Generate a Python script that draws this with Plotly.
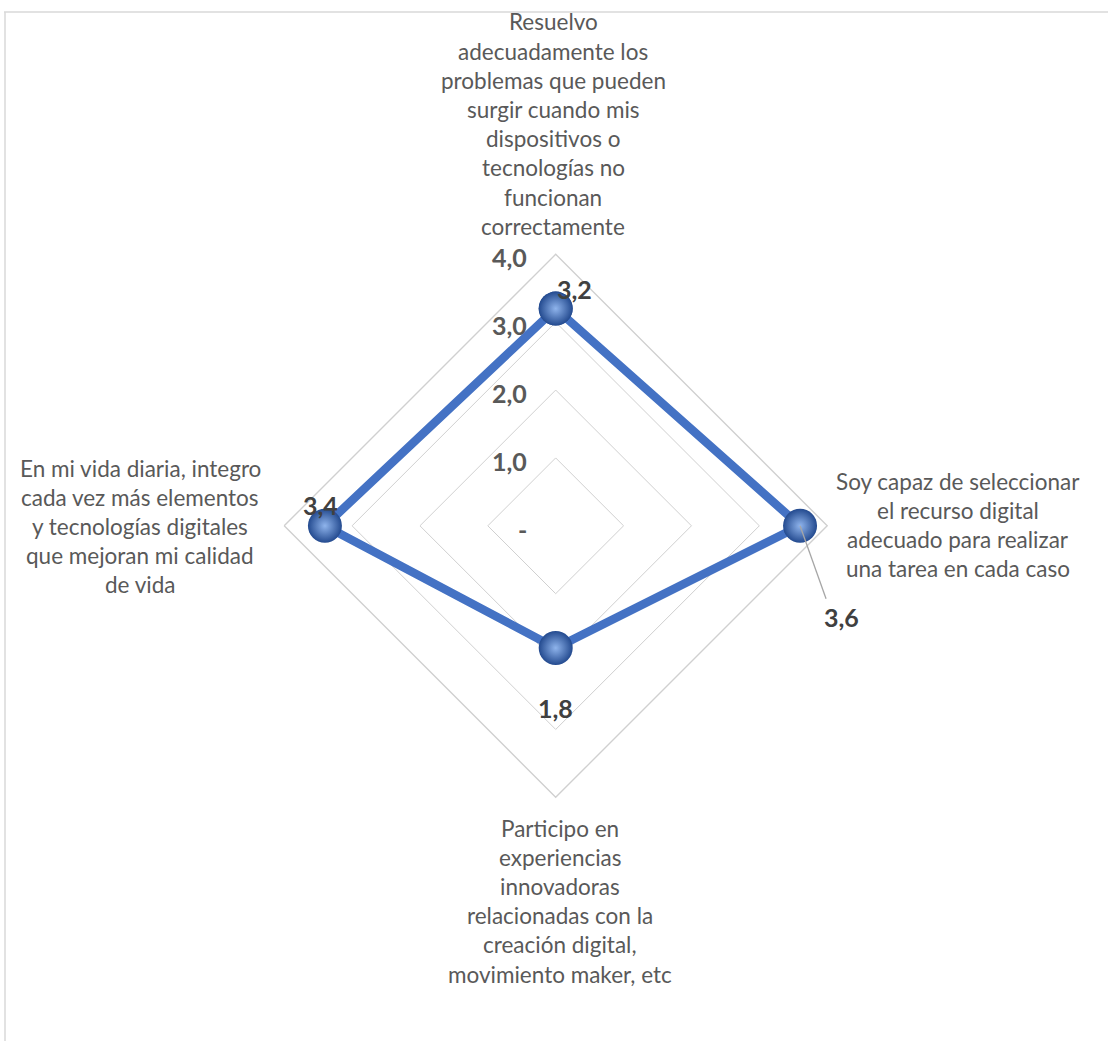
import plotly.graph_objects as go

# ---- data ----
categories = [
    "Resuelvo adecuadamente los problemas que pueden surgir cuando mis dispositivos o tecnologías no funcionan correctamente",
    "Soy capaz de seleccionar el recurso digital adecuado para realizar una tarea en cada caso",
    "Participo en experiencias innovadoras relacionadas con la creación digital, movimiento maker, etc",
    "En mi vida diaria, integro cada vez más elementos y tecnologías digitales que mejoran mi calidad de vida",
]
category_lines = [
    ["Resuelvo", "adecuadamente los", "problemas que pueden", "surgir cuando mis",
     "dispositivos o", "tecnologías no", "funcionan", "correctamente"],
    ["Soy capaz de seleccionar", "el recurso digital", "adecuado para realizar", "una tarea en cada caso"],
    ["Participo en", "experiencias", "innovadoras", "relacionadas con la", "creación digital,",
     "movimiento maker, etc"],
    ["En mi vida diaria, integro", "cada vez más elementos", "y tecnologías digitales",
     "que mejoran mi calidad", "de vida"],
]
values = [3.2, 3.6, 1.8, 3.4]
value_labels = ["3,2", "3,6", "1,8", "3,4"]
tick_vals = [0, 1, 2, 3, 4]
tick_text = ["-", "1,0", "2,0", "3,0", "4,0"]

W, H = 1108, 1041
cx, cy, R = 555.7, 525.8, 271.5   # pixel centre and outer radius of the radar
rmax = 4.0
unit = R / rmax

fig = go.Figure()
theta = categories + [categories[0]]
fig.add_trace(go.Scatterpolar(
    r=values + [values[0]], theta=theta, mode="lines+markers",
    line=dict(color="#4472C4", width=8.5),
    marker=dict(size=34, color="#234A8F",
                gradient=dict(type="radial", color="#8FB4EC"),
                line=dict(width=0)),
    hoverinfo="r+theta", showlegend=False,
))

fig.update_layout(
    width=W, height=H, margin=dict(l=0, r=0, t=0, b=0),
    paper_bgcolor="white", plot_bgcolor="white",
    polar=dict(
        domain=dict(x=[(cx - R) / W, (cx + R) / W], y=[(H - cy - R) / H, (H - cy + R) / H]),
        bgcolor="white", gridshape="linear",
        radialaxis=dict(range=[0, rmax], tickvals=tick_vals, showticklabels=False,
                        angle=90, showline=False, ticks="",
                        gridcolor="#D0D0D0", gridwidth=1.4),
        angularaxis=dict(rotation=90, direction="clockwise", showgrid=False,
                         showline=True, linecolor="#D0D0D0", linewidth=1.4,
                         showticklabels=False, ticks=""),
    ),
)

anns = []
# radial tick labels (left of the vertical axis, at each grid level)
for tv, tt in zip(tick_vals, tick_text):
    py = cy - tv * unit + 3
    anns.append(dict(x=529 / W, y=1 - py / H, xref="paper", yref="paper",
                     xanchor="right", yanchor="middle", text="<b>" + tt + "</b>", showarrow=False,
                     font=dict(family="Lato", size=25, color="#595959")))

# data labels placed relative to the data points (direction per category)
dirs = [(0, -1), (1, 0), (0, 1), (-1, 0)]
offsets = [(19, -20), (41, 91), (0, 60), (-4, -21)]
for v, lab, d, off in zip(values, value_labels, dirs, offsets):
    px = cx + d[0] * v * unit
    py = cy + d[1] * v * unit
    anns.append(dict(x=(px + off[0]) / W, y=1 - (py + off[1]) / H, xref="paper", yref="paper",
                     xanchor="center", yanchor="middle",
                     text="<b>" + lab + "</b>", showarrow=False,
                     font=dict(family="Lato", size=25, color="#404040")))
    if lab == "3,6":
        fig.add_shape(type="line", xref="paper", yref="paper",
                      x0=px / W, y0=1 - py / H, x1=(px + 26) / W, y1=1 - (py + 73) / H,
                      line=dict(color="#A6A6A6", width=1.3))

# category labels
label_pos = [(553, 22), (958, 481), (560, 828), (140, 468)]
for lines, (lx, ly) in zip(category_lines, label_pos):
    for i, t in enumerate(lines):
        anns.append(dict(x=lx / W, y=1 - (ly + i * 29.2) / H, xref="paper", yref="paper",
                         xanchor="center", yanchor="middle",
                         text=t, showarrow=False,
                         font=dict(family="Lato", size=22.5, color="#595959")))
fig.update_layout(annotations=anns)

# chart area border (top and left edges visible)
fig.add_shape(type="line", xref="paper", yref="paper", x0=4 / W, x1=1, y0=1 - 12 / H, y1=1 - 12 / H,
              line=dict(color="#D9D9D9", width=1.5))
fig.add_shape(type="line", xref="paper", yref="paper", x0=5 / W, x1=5 / W, y0=0, y1=1 - 12 / H,
              line=dict(color="#D9D9D9", width=1.5))

fig.write_html("out.html")
